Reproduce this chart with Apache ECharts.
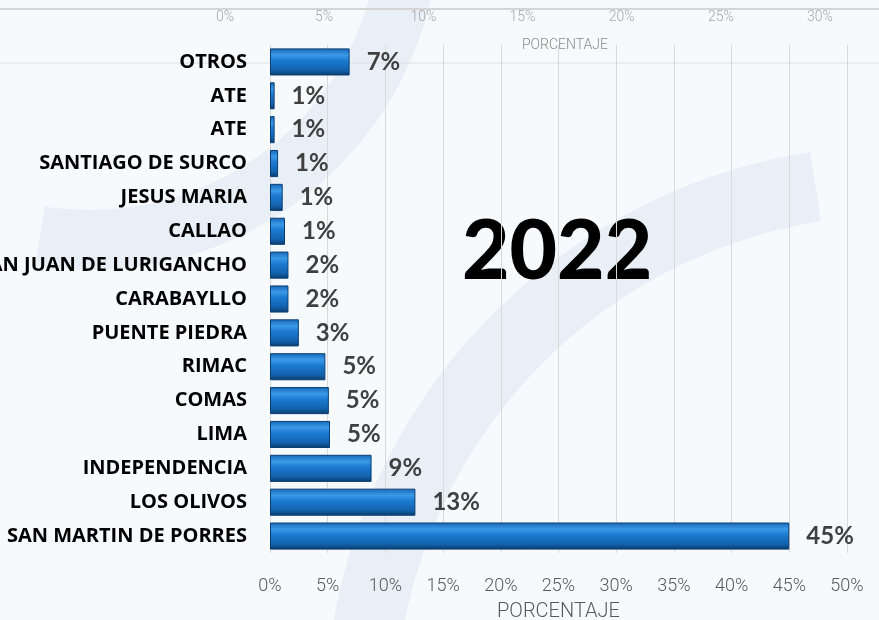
<!DOCTYPE html>
<html lang="es">
<head>
    <meta charset="UTF-8">
    <title>Distritos 2022</title>
    <script src="https://cdn.jsdelivr.net/npm/echarts@6/dist/echarts.min.js"></script>
    <style>
        html, body { margin: 0; padding: 0; background: #f6f9fc; }
    </style>
</head>
<body>
<div id="box" style="width: 879px;height:620px;"></div>
<script>
    // datos (de arriba hacia abajo)
    var distritos = ['OTROS', 'ATE', 'ATE', 'SANTIAGO DE SURCO', 'JESUS MARIA', 'CALLAO',
        'SAN JUAN DE LURIGANCHO', 'CARABAYLLO', 'PUENTE PIEDRA', 'RIMAC', 'COMAS', 'LIMA',
        'INDEPENDENCIA', 'LOS OLIVOS', 'SAN MARTIN DE PORRES'];
    var porcentajes = [6.9, 0.4, 0.4, 0.7, 1.1, 1.3, 1.6, 1.6, 2.5, 4.8, 5.1, 5.2, 8.8, 12.6, 45];
    var etiquetas = ['7%', '1%', '1%', '1%', '1%', '1%', '2%', '2%', '3%', '5%', '5%', '5%', '9%', '13%', '45%'];
    var ticksAbajo = [0, 50, 5];   // min, max, intervalo
    var ticksArriba = [0, 30, 5];
    var anio = '2022';

    var myChart = echarts.init(document.getElementById('box'));

    var barColor = new echarts.graphic.LinearGradient(0, 0, 0, 1, [
        {offset: 0, color: '#1667b8'},
        {offset: 0.25, color: '#3a9ae8'},
        {offset: 0.45, color: '#1c7ad2'},
        {offset: 0.8, color: '#1262ad'},
        {offset: 1, color: '#0a3a69'}
    ]);

    var option = {
        backgroundColor: '#f7fafd',
        textStyle: {fontFamily: 'Lato'},
        graphic: [
            // marca de agua
            {type: 'arc', silent: true, z: -10, shape: {cx: 900, cy: 720, r: 540, startAngle: Math.PI, endAngle: Math.PI * 1.45},
                style: {fill: null, stroke: '#e9eff7', lineWidth: 70}},
            {type: 'arc', silent: true, z: -10, shape: {cx: 90, cy: -80, r: 320, startAngle: 0.1, endAngle: Math.PI * 0.55},
                style: {fill: null, stroke: '#e9eff7', lineWidth: 60}},
            {type: 'line', silent: true, z: -5, shape: {x1: 0, y1: 9, x2: 879, y2: 9},
                style: {stroke: '#d4d4d4', lineWidth: 2}},
            {type: 'line', silent: true, z: -5, shape: {x1: 0, y1: 63, x2: 879, y2: 63},
                style: {stroke: '#e0e0e0', lineWidth: 1}},
            {type: 'text', left: 522, top: 38, silent: true,
                style: {text: 'PORCENTAJE', fill: '#8c8c8c', font: '300 14px Roboto'}},
            {type: 'text', left: 462, top: 212, silent: true,
                style: {text: anio, fill: '#000', font: '900 82px Lato'}}
        ],
        grid: [
            {left: 270, right: 32, top: 45, bottom: 67, containLabel: false, outerBoundsMode: 'none'},
            {left: 225, right: 59, top: 30, height: 1, containLabel: false, outerBoundsMode: 'none'}
        ],
        xAxis: [
            {
                type: 'value', gridIndex: 0,
                min: ticksAbajo[0], max: ticksAbajo[1], interval: ticksAbajo[2],
                axisLine: {show: false}, axisTick: {show: false},
                splitLine: {lineStyle: {color: '#d9d9d9'}},
                axisLabel: {formatter: '{value}%', color: '#595959', fontSize: 18, fontFamily: 'Roboto', fontWeight: 300, margin: 24},
                name: 'PORCENTAJE', nameLocation: 'middle', nameGap: 49,
                nameTextStyle: {color: '#595959', fontSize: 20, fontFamily: 'Roboto', fontWeight: 300}
            },
            {
                type: 'value', gridIndex: 1, position: 'top',
                min: ticksArriba[0], max: ticksArriba[1], interval: ticksArriba[2],
                axisLine: {show: false}, axisTick: {show: false}, splitLine: {show: false},
                axisLabel: {formatter: '{value}%', color: '#a6a6a6', fontSize: 14, fontFamily: 'Roboto', fontWeight: 300, margin: 6}
            }
        ],
        yAxis: [
            {
                type: 'category', gridIndex: 0, inverse: true, data: distritos,
                axisLine: {show: false}, axisTick: {show: false},
                axisLabel: {color: '#000', fontSize: 20, fontWeight: 'bold', fontFamily: 'Open Sans', margin: 23}
            },
            {type: 'value', gridIndex: 1, show: false}
        ],
        series: [
            {
                type: 'bar', xAxisIndex: 0, yAxisIndex: 0,
                data: porcentajes, barWidth: '80%',
                itemStyle: {color: barColor, borderColor: '#0b3e70', borderWidth: 1},
                label: {
                    show: true, position: 'right', distance: 17,
                    color: '#404040', fontSize: 24, fontWeight: 'bold',
                    formatter: function (p) { return etiquetas[p.dataIndex]; }
                }
            }
        ]
    };
    myChart.setOption(option);
</script>
</body>
</html>
